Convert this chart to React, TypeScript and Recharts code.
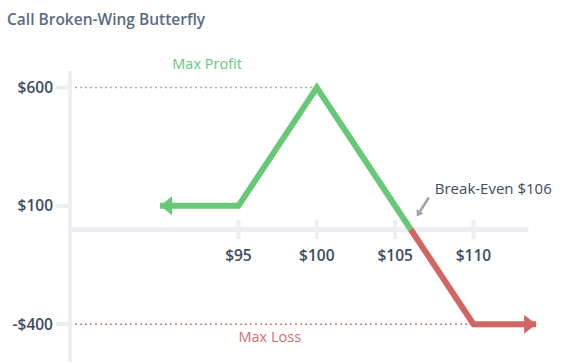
import React from "react";
import {
  Line,
  LineChart,
  ReferenceDot,
  ReferenceLine,
  XAxis,
  YAxis,
} from "recharts";

/* ────────── payoff diagram for a call broken-wing butterfly ────────── */

const profitPrices = [90, 95, 100, 106];
const profitPnl = [100, 100, 600, 0];
const lossPrices = [106, 110, 114];
const lossPnl = [0, -400, -400];

const xTicks = [95, 100, 105, 110];
const yTicks = [-400, 100, 600];

const maxProfit = 600;
const maxLoss = -400;
const breakEven = 106;

const profitData = profitPrices.map((price, i) => ({ price, pnl: profitPnl[i] }));
const lossData = lossPrices.map((price, i) => ({ price, pnl: lossPnl[i] }));

const GREEN = "#67c878";
const RED = "#d16562";
const AXIS = "#eceef1";
const INK = "#3d4b5f";
const FONT = "'Open Sans', sans-serif";

const money = (v: number) => (v < 0 ? `-$${-v}` : `$${v}`);

// arrow heads at the open ends of the payoff line
const arrowDot = (which: "first" | "last", color: string, count: number) =>
  (props: any) => {
    const { cx, cy, index } = props;
    const hit = which === "first" ? index === 0 : index === count - 1;
    if (!hit) return <g key={`d-${index}`} />;
    const dir = which === "first" ? 1 : -1;
    const pts = `${cx},${cy} ${cx + dir * 12},${cy - 9.5} ${cx + dir * 12},${cy + 9.5}`;
    return <polygon key={`d-${index}`} points={pts} fill={color} />;
  };

const BreakEvenMark = (props: any) => {
  const { cx, cy } = props;
  const tip = { x: cx + 6, y: cy - 13 };
  const tail = { x: cx + 18, y: cy - 32 };
  const dx = tip.x - tail.x;
  const dy = tip.y - tail.y;
  const len = Math.hypot(dx, dy);
  const ux = dx / len;
  const uy = dy / len;
  const bx = tip.x - ux * 6;
  const by = tip.y - uy * 6;
  const head = `${tip.x},${tip.y} ${bx - uy * 4},${by + ux * 4} ${bx + uy * 4},${by - ux * 4}`;
  return (
    <g>
      <line x1={tail.x} y1={tail.y} x2={bx} y2={by} stroke="#9aa3ad" strokeWidth={2.5} />
      <polygon points={head} fill="#9aa3ad" />
      <text
        x={cx + 24}
        y={cy - 36}
        fill={INK}
        fontSize={15}
        fontWeight={500}
        fontFamily={FONT}
      >
        {`Break-Even $${breakEven}`}
      </text>
    </g>
  );
};

export default function App() {
  return (
    <div
      style={{
        position: "absolute",
        left: 0,
        top: 0,
        width: 573,
        height: 363,
        background: "#fff",
        fontFamily: FONT,
      }}
    >
      <div
        style={{
          position: "absolute",
          left: 7,
          top: 8,
          fontSize: 15.5,
          fontWeight: 600,
          color: "#5b6b7f",
        }}
      >
        Call Broken-Wing Butterfly
      </div>
      <LineChart
        width={573}
        height={363}
        margin={{ top: 71, right: 29, bottom: 1, left: 0 }}
        style={{ position: "absolute", left: 0, top: 0 }}
      >
        <XAxis
          type="number"
          dataKey="price"
          domain={[84.25, 114.5]}
          allowDataOverflow
          hide
        />
        <YAxis
          type="number"
          dataKey="pnl"
          width={70}
          domain={[-560, 670]}
          ticks={yTicks}
          tickFormatter={money}
          tickSize={14}
          tickMargin={3}
          axisLine={{ stroke: AXIS, strokeWidth: 4 }}
          tickLine={{ stroke: AXIS, strokeWidth: 4 }}
          tick={{ fill: INK, fontSize: 15.5, fontWeight: 600, fontFamily: FONT }}
        />

        {/* zero line acting as the price axis */}
        <ReferenceLine
          segment={[
            { x: 84.25, y: 0 },
            { x: 113.5, y: 0 },
          ]}
          stroke={AXIS}
          strokeWidth={5}
        />
        {xTicks.map((t) => (
          <ReferenceLine
            key={t}
            segment={[
              { x: t, y: 40 },
              { x: t, y: -40 },
            ]}
            stroke={AXIS}
            strokeWidth={4}
            label={{
              value: money(t),
              position: "bottom",
              offset: 11,
              fill: INK,
              fontSize: 15.5,
              fontWeight: 600,
              fontFamily: FONT,
            }}
          />
        ))}

        <ReferenceLine
          segment={[
            { x: 84.25, y: maxProfit },
            { x: 100, y: maxProfit },
          ]}
          stroke="#7fd08d"
          strokeWidth={1.5}
          strokeDasharray="2 3"
        />
        <ReferenceLine
          segment={[
            { x: 84.25, y: maxLoss },
            { x: 110, y: maxLoss },
          ]}
          stroke="#dc7a77"
          strokeWidth={1.5}
          strokeDasharray="2 3"
        />

        <ReferenceDot
          x={93}
          y={maxProfit}
          r={0}
          fill="none"
          stroke="none"
          label={{
            value: "Max Profit",
            position: "top",
            offset: 19,
            fill: GREEN,
            fontSize: 14.5,
            fontWeight: 500,
            fontFamily: FONT,
          }}
        />
        <ReferenceDot
          x={97}
          y={maxLoss}
          r={0}
          fill="none"
          stroke="none"
          label={{
            value: "Max Loss",
            position: "bottom",
            offset: 8,
            fill: "#d86e6b",
            fontSize: 14.5,
            fontWeight: 500,
            fontFamily: FONT,
          }}
        />

        <Line
          data={profitData}
          dataKey="pnl"
          type="linear"
          stroke={GREEN}
          strokeWidth={6}
          dot={arrowDot("first", GREEN, profitData.length)}
          activeDot={false}
          isAnimationActive={false}
        />
        <Line
          data={lossData}
          dataKey="pnl"
          type="linear"
          stroke={RED}
          strokeWidth={6}
          dot={arrowDot("last", RED, lossData.length)}
          activeDot={false}
          isAnimationActive={false}
        />

        <ReferenceDot x={breakEven} y={0} r={0} shape={BreakEvenMark} />
      </LineChart>
    </div>
  );
}
